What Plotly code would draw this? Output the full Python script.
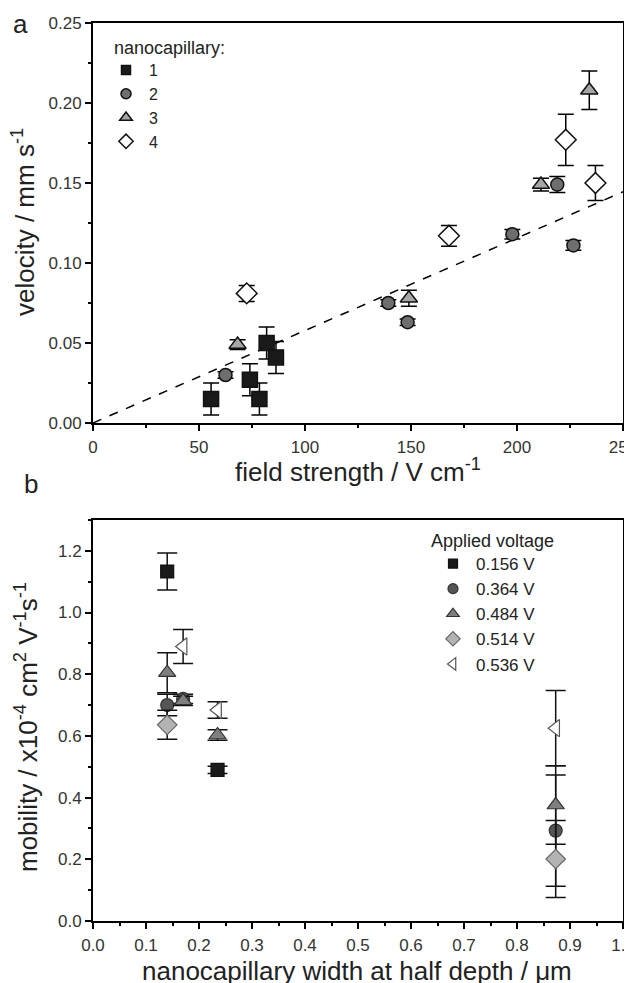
import plotly.graph_objects as go

# ---------------- Panel a data ----------------
n1_x = [55.7, 74.0, 78.5, 81.9, 86.3]
n1_y = [0.015, 0.027, 0.015, 0.050, 0.041]
n1_e = [0.010, 0.010, 0.010, 0.010, 0.010]

n2_x = [62.5, 139.3, 148.4, 197.8, 219.0, 226.6]
n2_y = [0.030, 0.075, 0.063, 0.118, 0.149, 0.111]
n2_e = [0.002, 0.002, 0.002, 0.003, 0.005, 0.003]

n3_x = [68.2, 149.0, 211.3, 234.1]
n3_y = [0.049, 0.078, 0.149, 0.208]
n3_e = [0.003, 0.005, 0.004, 0.012]

n4_x = [72.5, 167.9, 223.0, 237.0]
n4_y = [0.081, 0.117, 0.177, 0.150]
n4_e = [0.005, 0.0065, 0.016, 0.011]

fit_x = [0, 250]
fit_y = [0, 0.1445]

# ---------------- Panel b data ----------------
v156_x = [0.14, 0.235]
v156_y = [1.133, 0.490]
v156_e = [0.060, 0.012]

v364_x = [0.14, 0.17, 0.873]
v364_y = [0.700, 0.720, 0.293]
v364_e = [0.035, 0.015, 0.180]

v484_x = [0.14, 0.17, 0.235, 0.873]
v484_y = [0.805, 0.714, 0.603, 0.376]
v484_e = [0.065, 0.015, 0.017, 0.127]

v514_x = [0.14, 0.873]
v514_y = [0.636, 0.201]
v514_e = [0.047, 0.125]

v536_x = [0.17, 0.235, 0.873]
v536_y = [0.890, 0.684, 0.625]
v536_e = [0.055, 0.027, 0.122]

FONT = "Liberation Sans, Arial, sans-serif"
TXT = "#222"

fig = go.Figure()

# fit line
fig.add_trace(go.Scatter(x=fit_x, y=fit_y, mode="lines", showlegend=False,
                         line=dict(color="black", width=1.5, dash="dash"),
                         xaxis="x", yaxis="y"))

def add_top(x, y, e, name, symbol, fill, size, lsize):
    fig.add_trace(go.Scatter(
        x=x, y=y, mode="markers", name=name, showlegend=False,
        error_y=dict(type="data", array=e, visible=True, color="black",
                     thickness=1.5, width=8),
        marker=dict(symbol=symbol, color=fill, size=size,
                    line=dict(color="#111", width=1.5)),
        xaxis="x", yaxis="y"))
    # legend entry (no data)
    fig.add_trace(go.Scatter(
        x=[None], y=[None], mode="markers", name=name, legend="legend",
        marker=dict(symbol=symbol, color=fill, size=lsize,
                    line=dict(color="#111", width=1.5)),
        xaxis="x", yaxis="y"))

add_top(n1_x, n1_y, n1_e, "1", "square", "#1a1a1a", 15, 9)
add_top(n2_x, n2_y, n2_e, "2", "circle", "#6e6e6e", 13, 10)
add_top(n3_x, n3_y, n3_e, "3", "triangle-up", "#a6a6a6", 15, 11)
add_top(n4_x, n4_y, n4_e, "4", "diamond", "white", 16, 11)

def add_bot(x, y, e, name, symbol, fill, edge, size, lsize):
    fig.add_trace(go.Scatter(
        x=x, y=y, mode="markers", name=name, showlegend=False,
        error_y=dict(type="data", array=e, visible=True, color="#111",
                     thickness=1.5, width=10),
        marker=dict(symbol=symbol, color=fill, size=size,
                    line=dict(color=edge, width=1.2)),
        xaxis="x2", yaxis="y2"))
    fig.add_trace(go.Scatter(
        x=[None], y=[None], mode="markers", name=name, legend="legend2",
        marker=dict(symbol=symbol, color=fill, size=lsize,
                    line=dict(color=edge, width=1.2)),
        xaxis="x2", yaxis="y2"))

add_bot(v156_x, v156_y, v156_e, "0.156 V", "square", "#1a1a1a", "#111", 13, 9)
add_bot(v364_x, v364_y, v364_e, "0.364 V", "circle", "#555555", "#333", 13, 10)
add_bot(v484_x, v484_y, v484_e, "0.484 V", "triangle-up", "#7f7f7f", "#333", 15, 11)
add_bot(v514_x, v514_y, v514_e, "0.514 V", "diamond", "#b3b3b3", "#666", 15, 11)
add_bot(v536_x, v536_y, v536_e, "0.536 V", "triangle-left", "white", "#555", 15, 11)

axis_common = dict(showline=True, linecolor="black", linewidth=2, mirror=True,
                   ticks="outside", ticklen=6, tickwidth=2, tickcolor="black",
                   showgrid=False, zeroline=False, automargin=False,
                   ticklabeloverflow="allow",
                   tickfont=dict(family=FONT, size=17, color="#333"))

top_dom = [(921 - 423) / 898, 1.0]
bot_dom = [0.0, (921 - 520) / 898]

# page pixel -> paper coordinates (plot area spans x 93..623, y 23..921 on the page)
def px_x(px):
    return (px - 93) / 530

def px_y(py):
    return (921 - py) / 898

# the page body adds an 8 px offset, so the figure is 8 px smaller and shifted
fig.update_layout(
    width=624, height=975,
    paper_bgcolor="white", plot_bgcolor="white",
    margin=dict(l=85, r=9, t=15, b=62, autoexpand=False),
    font=dict(family=FONT, color=TXT),
    xaxis=dict(range=[0, 250], domain=[0, 1], anchor="y", tickvals=[0, 50, 100, 150, 200, 250],
               ticklabelstandoff=2,
               minor=dict(ticks="outside", ticklen=3, tickwidth=2, dtick=25, tickcolor="black"),
               **axis_common),
    yaxis=dict(range=[0, 0.25], domain=top_dom, anchor="x", dtick=0.05, tickformat=".2f",
               minor=dict(ticks="outside", ticklen=3, tickwidth=2, dtick=0.025, tickcolor="black"),
               **axis_common),
    xaxis2=dict(range=[0, 1.0], domain=[0, 1], anchor="y2", dtick=0.1, tickformat=".1f",
                ticklabelstandoff=2,
                minor=dict(ticks="outside", ticklen=3, tickwidth=2, dtick=0.05, tickcolor="black"),
                **axis_common),
    yaxis2=dict(range=[0, 1.3], domain=bot_dom, anchor="x2", tickvals=[0, 0.2, 0.4, 0.6, 0.8, 1.0, 1.2],
                tickformat=".1f",
                minor=dict(ticks="outside", ticklen=3, tickwidth=2, dtick=0.1, tickcolor="black"),
                **axis_common),
    legend=dict(x=px_x(103), y=px_y(53), xanchor="left", yanchor="top",
                font=dict(family=FONT, size=16, color=TXT), itemwidth=36,
                bgcolor="rgba(0,0,0,0)", tracegroupgap=0),
    legend2=dict(x=px_x(430), y=px_y(546), xanchor="left", yanchor="top",
                 font=dict(family=FONT, size=17, color=TXT), itemwidth=36,
                 bgcolor="rgba(0,0,0,0)", tracegroupgap=0),
)

ann = [
    dict(text="a", x=px_x(20), y=px_y(24), size=26, xa="center"),
    dict(text="b", x=px_x(31), y=px_y(484), size=26, xa="center"),
    dict(text="field strength / V cm<sup>-1</sup>", x=px_x(358), y=px_y(470), size=26, xa="center"),
    dict(text="nanocapillary width at half depth / \u03bcm", x=px_x(357), y=px_y(971), size=26, xa="center"),
    dict(text="nanocapillary:", x=px_x(112), y=px_y(48), size=18, xa="left"),
    dict(text="Applied voltage", x=px_x(429), y=px_y(541), size=18, xa="left"),
]
for a in ann:
    fig.add_annotation(text=a["text"], x=a["x"], y=a["y"], xref="paper", yref="paper",
                       showarrow=False, xanchor=a["xa"], yanchor="middle",
                       font=dict(family=FONT, size=a["size"], color=TXT))

fig.add_annotation(text="velocity / mm s<sup>-1</sup>", x=px_x(24), y=px_y(222),
                   xref="paper", yref="paper", showarrow=False, textangle=-90,
                   xanchor="center", yanchor="middle",
                   font=dict(family=FONT, size=26, color=TXT))
fig.add_annotation(text="mobility / x10<sup>-4</sup> cm<sup>2</sup> V<sup>-1</sup>s<sup>-1</sup>",
                   x=px_x(26), y=px_y(727),
                   xref="paper", yref="paper", showarrow=False, textangle=-90,
                   xanchor="center", yanchor="middle",
                   font=dict(family=FONT, size=26, color=TXT))

fig.write_html("out.html")
